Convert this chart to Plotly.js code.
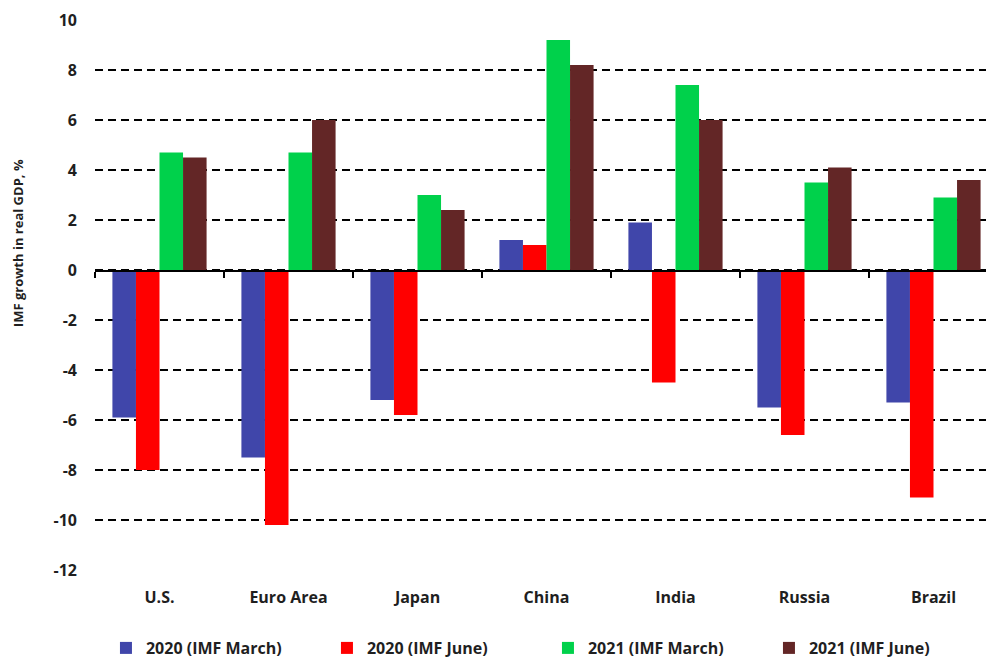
<!DOCTYPE html>
<html>
<head>
<meta charset="utf-8">
<script src="https://cdn.plot.ly/plotly-3.0.1.min.js"></script>
<style>
  html, body { margin: 0; padding: 0; background: #fff; }
  #chart { width: 986px; height: 658px; }
</style>
</head>
<body>
<div id="chart"></div>
<script>
// IMF real GDP growth forecasts, %
const regions = ["U.S.", "Euro Area", "Japan", "China", "India", "Russia", "Brazil"];
const march2020 = [-5.9, -7.5, -5.2, 1.2, 1.9, -5.5, -5.3];
const june2020  = [-8.0, -10.2, -5.8, 1.0, -4.5, -6.6, -9.1];
const march2021 = [4.7, 4.7, 3.0, 9.2, 7.4, 3.5, 2.9];
const june2021  = [4.5, 6.0, 2.4, 8.2, 6.0, 4.1, 3.6];

const seriesNames  = ["2020 (IMF March)", "2020 (IMF June)", "2021 (IMF March)", "2021 (IMF June)"];
const seriesColors = ["#4046AA", "#FF0000", "#00D14B", "#632626"];
const seriesValues = [march2020, june2020, march2021, june2021];

// y tick values and their labels (plain hyphen minus)
const yTickVals   = [-12, -10, -8, -6, -4, -2, 0, 2, 4, 6, 8, 10];
const yTickLabels = ["-12", "-10", "-8", "-6", "-4", "-2", "0", "2", "4", "6", "8", "10"];

const yTitle = "IMF growth in real GDP, %";

const textColor = "#1f1f1f";
const fam = "'Open Sans', 'Liberation Sans', sans-serif";
const boldFont = (size) => ({ family: fam, size: size, color: textColor, weight: "bold" });

const traces = seriesValues.map((vals, i) => ({
  type: "bar",
  name: seriesNames[i],
  x: regions,
  y: vals,
  marker: { color: seriesColors[i] },
  hoverinfo: "x+y+name"
}));

// empty helper trace so the zero-baseline axis gets its own subplot
traces.push({
  type: "scatter",
  x: [],
  y: [],
  xaxis: "x2",
  yaxis: "y",
  showlegend: false,
  hoverinfo: "skip"
});

const layout = {
  width: 986,
  height: 658,
  margin: { l: 95, r: 0, t: 19, b: 87, autoexpand: false },
  paper_bgcolor: "#fff",
  plot_bgcolor: "#fff",
  font: boldFont(16),
  barmode: "group",
  bargap: 0.27,
  bargroupgap: 0,
  showlegend: true,
  legend: {
    orientation: "h",
    x: 0.0123, xanchor: "left",
    y: -0.1395, yanchor: "middle",
    font: boldFont(16),
    traceorder: "normal",
    itemwidth: 30,
    entrywidth: 176,
    entrywidthmode: "pixels"
  },
  xaxis: {
    type: "category",
    range: [-0.5, 6.407],
    showgrid: false,
    zeroline: false,
    showline: false,
    ticks: "",
    tickangle: 0,
    ticklabelstandoff: 15,
    tickfont: boldFont(16),
    fixedrange: true
  },
  // baseline at zero with boundary ticks between regions
  xaxis2: {
    type: "linear",
    overlaying: "x",
    anchor: "free",
    position: 12.04 / 22.08,
    range: [-0.5, 6.407],
    tick0: -0.5,
    dtick: 1,
    ticks: "outside",
    ticklen: 6,
    tickwidth: 1.5,
    tickcolor: "#000",
    showticklabels: false,
    showgrid: false,
    zeroline: false,
    showline: true,
    linecolor: "#000",
    linewidth: 1.5,
    layer: "above traces",
    fixedrange: true
  },
  yaxis: {
    range: [-12.04, 10.04],
    tickmode: "array",
    tickvals: yTickVals,
    ticktext: yTickLabels,
    showgrid: true,
    gridcolor: "#000",
    gridwidth: 2,
    griddash: "8px,5px",
    zeroline: false,
    showline: false,
    ticks: "",
    ticklabelstandoff: 17,
    tickfont: boldFont(16),
    fixedrange: true
  },
  // vertical axis title, placed a little above the plot's mid-height
  annotations: [{
    text: yTitle,
    xref: "paper", yref: "paper",
    x: -0.0864, y: 0.594,
    xanchor: "center", yanchor: "middle",
    textangle: -90,
    showarrow: false,
    font: boldFont(13)
  }]
};

Plotly.newPlot("chart", traces, layout, { displayModeBar: false, staticPlot: true });
</script>
</body>
</html>
